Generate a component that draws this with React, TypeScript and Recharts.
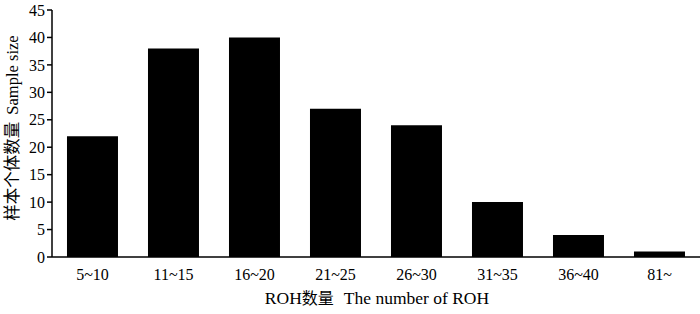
import React from "react";
import { BarChart, Bar, XAxis, YAxis } from "recharts";

const categories = ["5~10", "11~15", "16~20", "21~25", "26~30", "31~35", "36~40", "81~"];
const sampleSize = [22, 38, 40, 27, 24, 10, 4, 1];
const yTicks = [0, 5, 10, 15, 20, 25, 30, 35, 40, 45];

const data = categories.map((c, i) => ({ name: c, value: sampleSize[i] }));

const font = "'Liberation Serif', 'Times New Roman', 'Noto Sans CJK SC', serif";

const XLabel = () => (
  <text x={377} y={304} textAnchor="middle" fill="#000" fontFamily={font} fontSize={17.5}>
    ROH<tspan fontSize={16}>数量</tspan>
    <tspan dx={10}>The number of ROH</tspan>
  </text>
);

const YLabel = () => (
  <text
    x={0}
    y={0}
    transform="translate(18,128) rotate(-90)"
    textAnchor="middle"
    fill="#000"
    fontFamily={font}
    fontSize={16.5}
  >
    样本个体数量<tspan dx={7}>Sample size</tspan>
  </text>
);

export default function App() {
  return (
    <div style={{ position: "absolute", left: 0, top: 0, background: "#fff" }}>
      <BarChart
        width={700}
        height={314}
        data={data}
        margin={{ top: 10, right: 0, left: 0, bottom: 27 }}
        barCategoryGap="18.5%"
      >
        <XAxis
          dataKey="name"
          height={30}
          tickLine={false}
          axisLine={{ stroke: "#000", strokeWidth: 1.5 }}
          tick={{ fill: "#000", fontSize: 16, fontFamily: font }}
          tickMargin={6}
          label={<XLabel />}
        />
        <YAxis
          width={52}
          domain={[0, 45]}
          ticks={yTicks}
          interval={0}
          tickSize={5}
          tickLine={{ stroke: "#000", strokeWidth: 1.5 }}
          axisLine={{ stroke: "#000", strokeWidth: 1.5 }}
          tick={{ fill: "#000", fontSize: 16, fontFamily: font }}
          tickMargin={2}
          label={<YLabel />}
        />
        <Bar dataKey="value" fill="#000" isAnimationActive={false} />
      </BarChart>
    </div>
  );
}
